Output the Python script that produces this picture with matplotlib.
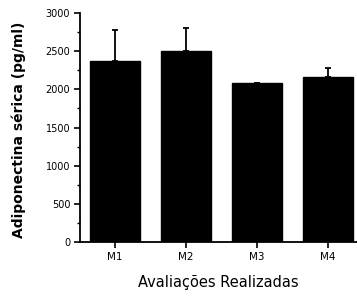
import matplotlib
matplotlib.use("Agg")
import matplotlib.pyplot as plt

categories = ["M1", "M2", "M3", "M4"]
values = [2370, 2500, 2080, 2160]
errors = [410, 300, 0, 120]
yticks = [0, 500, 1000, 1500, 2000, 2500, 3000]

plt.rcParams['font.family'] = ['DejaVu Sans']

fig = plt.figure(figsize=(3.57, 2.98), dpi=100)
W, H = 357, 298
left, right, top, bottom = 80, 364, 13, 242
ax = fig.add_axes([left / W, 1 - bottom / H, (right - left) / W, (bottom - top) / H])

x = list(range(len(categories)))
ax.bar(x, values, width=0.7, color='black', edgecolor='black')
ax.errorbar(x, values, yerr=[[0] * len(errors), errors], fmt='none',
            ecolor='black', elinewidth=1.3, capsize=2.5, capthick=1.3)

ax.set_xlim(-0.49, 3.51)
ax.set_ylim(0, 3000)
ax.set_xticks(x)
ax.set_xticklabels(categories, fontsize=7.5)
ax.set_yticks(yticks)
ax.set_yticklabels([str(v) for v in yticks], fontsize=7)
ax.set_yticks(range(250, 3000, 500), minor=True)

for s in ['top', 'right']:
    ax.spines[s].set_visible(False)
ax.spines['left'].set_linewidth(1.3)
ax.spines['bottom'].set_linewidth(1.3)
ax.tick_params(axis='both', which='major', length=4, width=1.2, direction='out', pad=3)
ax.tick_params(axis='y', which='minor', length=2.5, width=1.0)

ax.set_ylabel("Adiponectina sérica (pg/ml)", fontsize=10, fontweight='bold')
ax.yaxis.set_label_coords(-0.19, 0.49)
ax.set_xlabel("Avaliações Realizadas", fontsize=10.5)
ax.xaxis.set_label_coords(0.486, -0.145)

fig.savefig("out.png", dpi=100)
